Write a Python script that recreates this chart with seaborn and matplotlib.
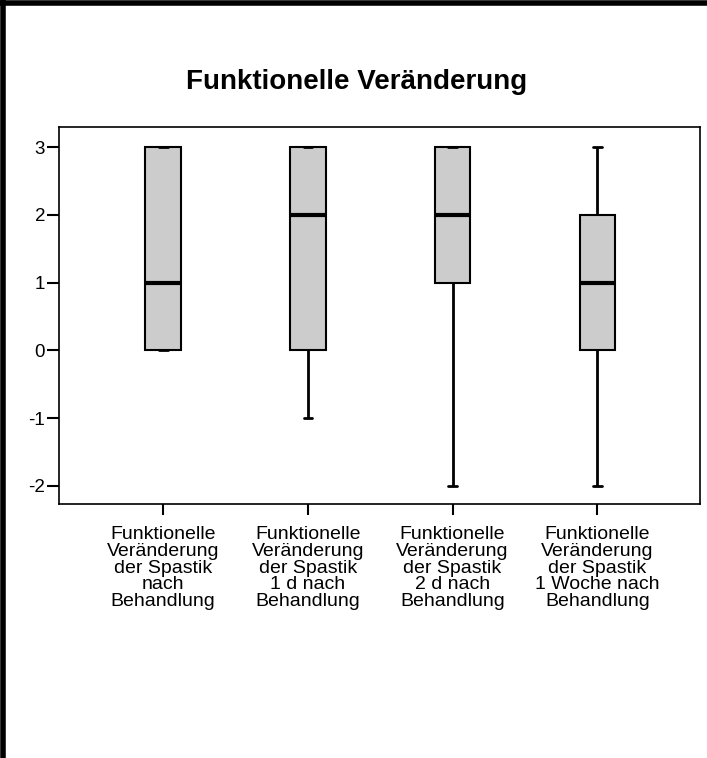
import matplotlib
matplotlib.use("Agg")
import matplotlib.pyplot as plt
from matplotlib.lines import Line2D
import seaborn as sns
import pandas as pd

categories = [
    "Funktionelle\nVeränderung\nder Spastik\nnach\nBehandlung",
    "Funktionelle\nVeränderung\nder Spastik\n1 d nach\nBehandlung",
    "Funktionelle\nVeränderung\nder Spastik\n2 d nach\nBehandlung",
    "Funktionelle\nVeränderung\nder Spastik\n1 Woche nach\nBehandlung",
]
# values per group (reproduce the box summaries)
g1 = [0, 0, 1, 3, 3]
g2 = [-1, 0, 2, 3, 3]
g3 = [-2, 1, 2, 3, 3]
g4 = [-2, 0, 1, 2, 3]
yticks = [-2, -1, 0, 1, 2, 3]
title = "Funktionelle Veränderung"

sns.set_theme(style="white")
plt.rcParams["font.family"] = ["Liberation Sans", "DejaVu Sans"]
plt.rcParams["text.color"] = "black"
plt.rcParams["xtick.color"] = "black"
plt.rcParams["ytick.color"] = "black"
plt.rcParams["xtick.labelcolor"] = "black"
plt.rcParams["ytick.labelcolor"] = "black"

rows = []
for cat, vals in zip(categories, [g1, g2, g3, g4]):
    for v in vals:
        rows.append({"cat": cat, "val": v})
df = pd.DataFrame(rows)

fig = plt.figure(figsize=(7.07, 7.58), dpi=100)
ax = fig.add_axes([59 / 707, 1 - 504 / 758, (700 - 59) / 707, (504 - 127) / 758])

sns.boxplot(data=df, x="cat", y="val", order=categories, ax=ax, whis=(0, 100),
            width=0.245, color="#cccccc", saturation=1, linecolor="black",
            linewidth=1.5, fliersize=0,
            medianprops=dict(color="black", linewidth=3),
            whiskerprops=dict(color="black", linewidth=2),
            capprops=dict(color="black", linewidth=2))

# shorten caps
for line in ax.lines:
    xd = list(line.get_xdata())
    yd = list(line.get_ydata())
    if len(xd) == 2 and yd[0] == yd[1] and abs(xd[1] - xd[0]) > 0:
        c = (xd[0] + xd[1]) / 2
        w = abs(xd[1] - xd[0])
        if w < 0.2:
            line.set_xdata([c - 0.03, c + 0.03])

ax.set_xlim(-0.72, 3.71)
ax.set_ylim(-2.27, 3.3)
ax.set_yticks(yticks)
ax.set_yticklabels([str(t) for t in yticks])
ax.set_xlabel("")
ax.set_ylabel("")
for s in ax.spines.values():
    s.set_visible(True)
    s.set_color("black")
    s.set_linewidth(1.2)
ax.tick_params(axis="y", direction="out", length=9, width=1.5, color="black",
               labelsize=13.5, pad=1, left=True, labelcolor="black")
ax.tick_params(axis="x", direction="out", length=8, width=1.5, color="black",
               labelsize=14, pad=8, bottom=True, labelcolor="black")
for lab in ax.get_xticklabels():
    lab.set_linespacing(0.98)
    lab.set_ha("center")

fig.text(357 / 707, 1 - 82 / 758, title, ha="center", va="center",
         fontsize=20, fontweight="bold", color="black")

fig.add_artist(Line2D([2.5 / 707, 2.5 / 707], [0, 1], transform=fig.transFigure,
                      color="black", linewidth=4))
fig.add_artist(Line2D([0, 1], [1 - 2.5 / 758, 1 - 2.5 / 758], transform=fig.transFigure,
                      color="black", linewidth=4))

fig.savefig("out.png", dpi=100)
